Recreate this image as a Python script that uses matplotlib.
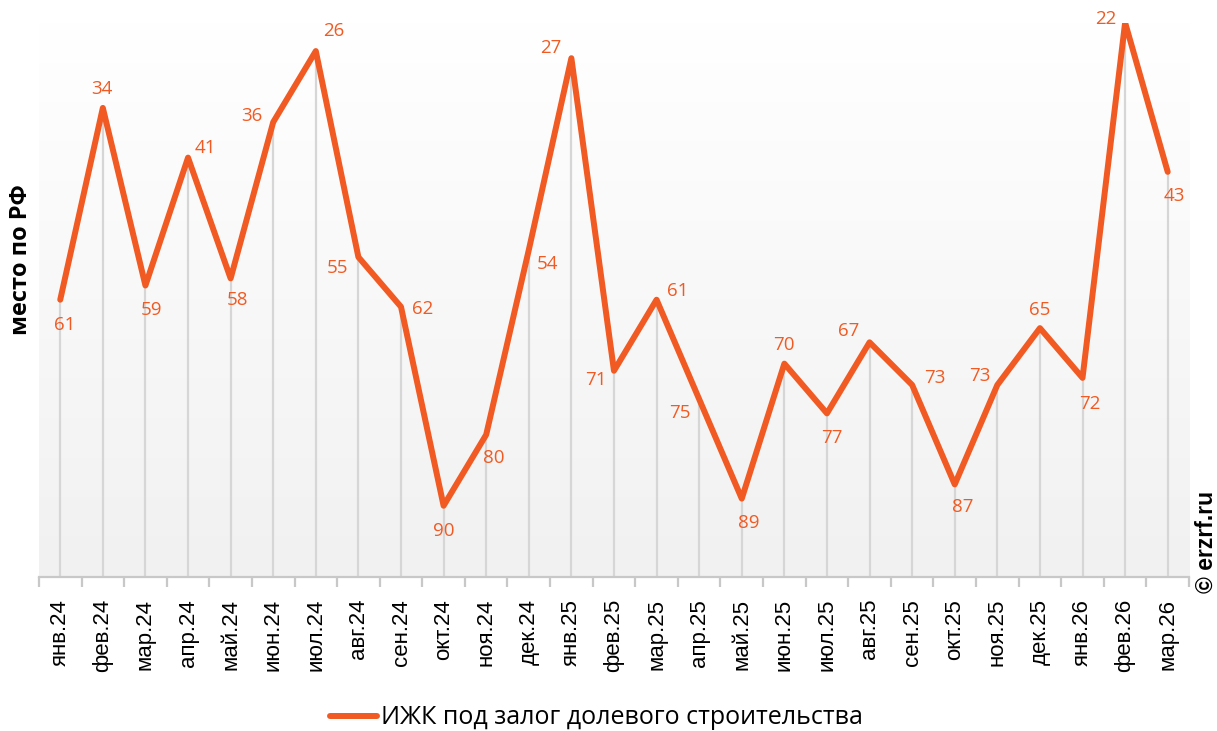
import numpy as np
import matplotlib.pyplot as plt
from matplotlib.colors import LinearSegmentedColormap

months = ['янв.24', 'фев.24', 'мар.24', 'апр.24', 'май.24', 'июн.24', 'июл.24',
          'авг.24', 'сен.24', 'окт.24', 'ноя.24', 'дек.24', 'янв.25', 'фев.25',
          'мар.25', 'апр.25', 'май.25', 'июн.25', 'июл.25', 'авг.25', 'сен.25',
          'окт.25', 'ноя.25', 'дек.25', 'янв.26', 'фев.26', 'мар.26']
rank = [61, 34, 59, 41, 58, 36, 26, 55, 62, 90, 80, 54, 27, 71, 61, 75, 89,
        70, 77, 67, 73, 87, 73, 65, 72, 22, 43]
series_name = 'ИЖК под залог долевого строительства'

# label offsets in pixels (dx, dy), picked so the numbers don't collide with the line
offsets = [(4, -25), (-1, 19), (6, -24), (17, 10), (7, -22), (-21, 6), (18, 20),
           (-21, -11), (22, -2), (0, -25), (8, -23), (19, -14), (-21, 10), (-18, -9),
           (21, 9), (-19, -14), (7, -24), (0, 19), (5, -25), (-21, 11), (23, 7),
           (8, -23), (-18, 9), (0, 18), (7, -26), (-19, 4), (7, -24)]

orange = '#f15a22'
x = np.arange(len(months))

fig = plt.figure(figsize=(12.17, 7.31), dpi=100)
ax = fig.add_axes([0.032, 0.211, 0.945, 0.758])

ymin, ymax = 22, 100
ax.set_xlim(-0.5, len(months) - 0.5)
ax.set_ylim(ymax, ymin)

# soft gray gradient behind the plot
grad = np.linspace(0, 1, 256).reshape(-1, 1)
cmap = LinearSegmentedColormap.from_list('bg', ['#ffffff', '#f1f1f1'])
ax.imshow(grad, cmap=cmap, aspect='auto', extent=(-0.5, len(months) - 0.5, ymax, ymin),
          origin='upper', zorder=0)

# drop lines from each point to the axis
ax.vlines(x, rank, ymax, color='#d6d6d6', linewidth=1.6, zorder=1)

line, = ax.plot(x, rank, color=orange, linewidth=4.3, solid_joinstyle='round',
                solid_capstyle='round', zorder=3, label=series_name)

for xi, v, (dx, dy) in zip(x, rank, offsets):
    ax.annotate(str(v), (xi, v), xytext=(dx, dy), textcoords='offset pixels',
                ha='center', va='center', color=orange, fontsize=13.5,
                family='Open Sans', zorder=4)

for s in ['top', 'right', 'left']:
    ax.spines[s].set_visible(False)
ax.spines['bottom'].set_color('#c8c8c8')
ax.spines['bottom'].set_linewidth(1.6)
ax.set_yticks([])

ax.set_xticks(x)
ax.set_xticklabels(months, rotation=90, fontsize=16, family='Liberation Sans')
ax.tick_params(axis='x', which='major', length=0, pad=16)
ax.set_xticks(np.arange(-0.5, len(months)), minor=True)
ax.tick_params(axis='x', which='minor', length=7, width=1.6, color='#c8c8c8')

ax.set_ylabel('место по РФ', fontsize=17, fontweight='bold', family='Open Sans')
ax.yaxis.set_label_coords(-0.005, 0.572)

fig.text(0.991, 0.258, '© erzrf.ru', rotation=90, ha='center', va='center',
         fontsize=16.5, fontweight='bold', family='Liberation Sans')

fig.legend(handles=[line], loc='center', bbox_to_anchor=(0.49, 0.018),
           frameon=False, prop={'family': 'Open Sans', 'size': 18},
           handlelength=1.9, handletextpad=0.15)

fig.savefig('out.png', dpi=100)
